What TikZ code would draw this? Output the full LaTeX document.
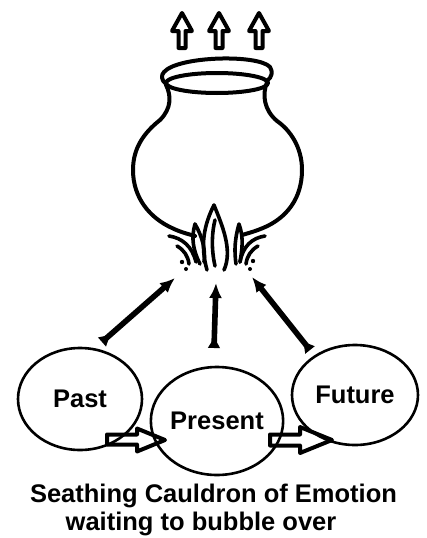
\documentclass[tikz,border=0pt]{standalone}
\usepackage{fontspec}
\setmainfont{Liberation Sans}
\usetikzlibrary{arrows.meta,shapes.geometric}

\begin{document}
\begin{tikzpicture}[line cap=round,line join=round,x=1pt,y=-1pt,
  time/.style={ellipse,draw,line width=2.6pt,inner sep=0pt,font=\fontsize{25.5}{30}\selectfont\bfseries},
  pot/.style={line width=4pt},
  flame/.style={line width=3.6pt},
  hollow/.style={draw,line width=4pt},
  feed/.style={line width=5.6pt,{Latex[reversed,length=13pt,width=13pt]}-{Latex[length=15pt,width=13pt]}},
  caption/.style={anchor=base,font=\fontsize{25.5}{30}\selectfont\bfseries}]

\useasboundingbox[fill=white] (0,0) rectangle (426,538);

\foreach \x in {182,219,259}
  \draw [hollow,fill=white] (\x-3.5,48) -- (\x-3.5,31) -- (\x-10,31) -- (\x,13) -- (\x+10,31) -- (\x+3.5,31) -- (\x+3.5,48) -- cycle;

\draw [pot] (166,84) .. controls (161,80) and (161,75) .. (164,72) .. controls (178,56) and (258,54) .. (270,67) .. controls (273,72) and (272,77) .. (267,81);
\draw [pot] (217,83) ellipse (51 and 10);

\draw [pot] (166,85) .. controls (171,95) and (172,108) .. (160,120) .. controls (145,132) and (133,147) .. (133,170) .. controls (133,198) and (150,218) .. (172,228) .. controls (180,232) and (188,234) .. (195,236);
\draw [pot] (267,82) .. controls (262,95) and (264,110) .. (277,121) .. controls (290,130) and (302,147) .. (302,170) .. controls (302,198) and (287,218) .. (263,228) .. controls (256,231) and (249,233) .. (242,235);

\draw [flame,fill=white] (207,270) .. controls (200,245) and (204,225) .. (214,205) .. controls (222,225) and (233,250) .. (224,270);
\draw [flame] (215,266) .. controls (211,248) and (212,232) .. (215,220);
\draw [flame] (200,264) .. controls (193,250) and (191,238) .. (195,224) .. controls (202,236) and (206,250) .. (204,262);
\draw [flame] (236,264) .. controls (234,250) and (235,238) .. (239,224) .. controls (244,238) and (242,250) .. (240,262);
\draw [flame] (169,236) .. controls (182,238) and (192,246) .. (196,262);
\draw [flame] (177,246) .. controls (184,250) and (188,256) .. (189,264);
\draw [flame] (265,236) .. controls (252,238) and (243,246) .. (240,262);
\draw [flame] (258,246) .. controls (251,250) and (247,256) .. (246,264);
\fill (182,262) circle (2.2);
\fill (186,269) circle (2);
\fill (253,261) circle (2.2);
\fill (250,269) circle (2);

\node [time,minimum width=124pt,minimum height=102pt] (past) at (80,399) {Past};
\node [time,minimum width=120pt,minimum height=108pt] (present) at (217,421) {Present};
\node [time,minimum width=126pt,minimum height=100pt] (future) at (355,395) {Future};

\coordinate (fireL) at (175,278);
\coordinate (fireM) at (216,283);
\coordinate (fireR) at (252,277);
\coordinate (fromL) at (102,342);
\coordinate (fromM) at (214,348);
\coordinate (fromR) at (310,350);

\draw [feed] (fromL) -- (fireL);
\draw [feed] (fromM) -- (fireM);
\draw [feed] (fromR) -- (fireR);

\draw [hollow] (107,434.5) -- (137,434.5) -- (137,428.5) -- (165,440) -- (137,451.5) -- (137,444.5) -- (107,444.5) -- cycle;
\draw [hollow] (270,434.5) -- (300,434.5) -- (300,427) -- (332,440) -- (300,453) -- (300,445.5) -- (270,445.5) -- cycle;

\node [caption] (title) at (213.5,502) {Seathing Cauldron of Emotion};
\node [caption] (subtitle) at (201,530) {waiting to bubble over};
\end{tikzpicture}
\end{document}
